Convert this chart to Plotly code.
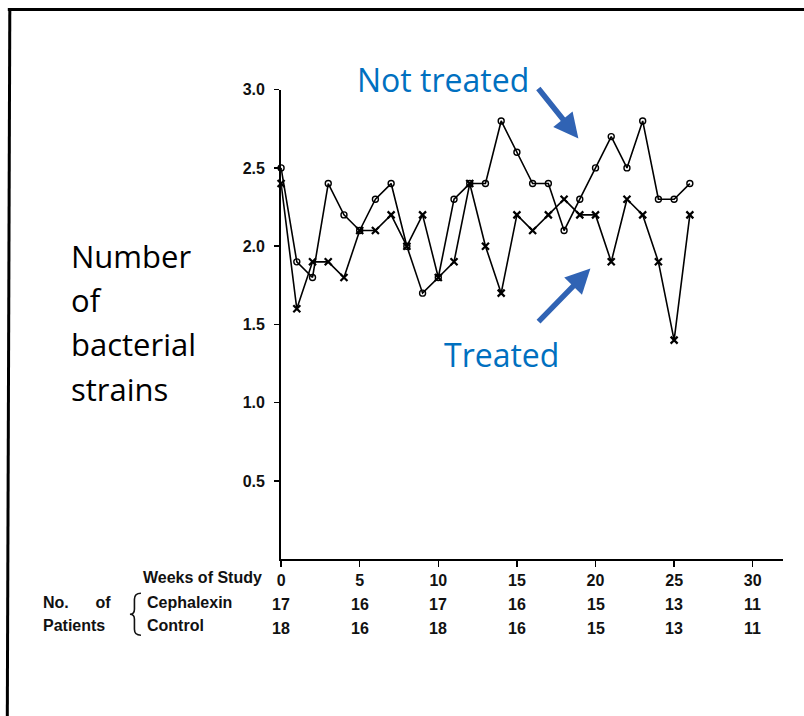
import plotly.graph_objects as go

W, H = 804, 716

weeks = list(range(0, 27))
not_treated = [2.5, 1.9, 1.8, 2.4, 2.2, 2.1, 2.3, 2.4, 2.0, 1.7, 1.8, 2.3, 2.4, 2.4,
               2.8, 2.6, 2.4, 2.4, 2.1, 2.3, 2.5, 2.7, 2.5, 2.8, 2.3, 2.3, 2.4]
treated = [2.4, 1.6, 1.9, 1.9, 1.8, 2.1, 2.1, 2.2, 2.0, 2.2, 1.8, 1.9, 2.4, 2.0,
           1.7, 2.2, 2.1, 2.2, 2.3, 2.2, 2.2, 1.9, 2.3, 2.2, 1.9, 1.4, 2.2]

week_ticks = [0, 5, 10, 15, 20, 25, 30]
cephalexin_n = [17, 16, 17, 16, 15, 13, 11]
control_n = [18, 16, 18, 16, 15, 13, 11]
y_ticks = [0.5, 1.0, 1.5, 2.0, 2.5, 3.0]

# measured capture correction (page -> photo): photo = a*page + b
AX, BX = 0.994, 4.2
AY, BY = 0.9896, 7.3


def xp(px):
    return ((px - BX) / AX) / W


def yp(py):
    return 1 - ((py - BY) / AY) / H


LBL = dict(family="Liberation Sans, Arial, sans-serif", size=16, color="#111111", weight="bold")
BLUE = "#0070C0"
ARROW = "#3063B4"

fig = go.Figure()
fig.add_trace(go.Scatter(
    x=weeks, y=not_treated, mode="lines+markers", name="Not treated",
    line=dict(color="black", width=1.6),
    marker=dict(symbol="circle-open", size=6, color="black", line=dict(width=1.4)),
    cliponaxis=False, hoverinfo="skip",
))
fig.add_trace(go.Scatter(
    x=weeks, y=treated, mode="lines+markers", name="Treated",
    line=dict(color="black", width=1.6),
    marker=dict(symbol="x-thin-open", size=7, color="black", line=dict(width=2.2)),
    cliponaxis=False, hoverinfo="skip",
))

fig.update_layout(
    width=W, height=H,
    margin=dict(l=0, r=0, t=0, b=0),
    paper_bgcolor="white", plot_bgcolor="white",
    showlegend=False, hovermode=False,
    xaxis=dict(
        domain=[xp(281), xp(782)], range=[0, 31.9],
        showgrid=False, zeroline=False,
        showline=True, linecolor="black", linewidth=2,
        ticks="outside", ticklen=6, tickwidth=1.5, tickcolor="black",
        tickvals=week_ticks, ticktext=[str(v) for v in week_ticks],
        tickfont=LBL,
    ),
    yaxis=dict(
        domain=[yp(559), yp(89)], range=[0, 3.0],
        showgrid=False, zeroline=False,
        showline=True, linecolor="black", linewidth=2,
        ticks="outside", ticklen=5, tickwidth=1.5, tickcolor="black",
        tickvals=y_ticks, ticktext=[f"{v:.1f}" for v in y_ticks],
        tickfont=dict(LBL, size=16), ticklabelstandoff=6,
    ),
)

ann = []
ann.append(dict(text="Weeks of Study", x=xp(264), y=yp(577), xref="paper", yref="paper",
                xanchor="right", yanchor="middle", showarrow=False, font=LBL))
ann.append(dict(text="No.&nbsp;&nbsp;&nbsp;&nbsp;&nbsp; of", x=xp(41), y=yp(602), xref="paper", yref="paper",
                xanchor="left", yanchor="middle", showarrow=False, font=LBL))
ann.append(dict(text="Patients", x=xp(41), y=yp(625), xref="paper", yref="paper",
                xanchor="left", yanchor="middle", showarrow=False, font=LBL))
ann.append(dict(text="Cephalexin", x=xp(145), y=yp(602), xref="paper", yref="paper",
                xanchor="left", yanchor="middle", showarrow=False, font=LBL))
ann.append(dict(text="Control", x=xp(145), y=yp(625), xref="paper", yref="paper",
                xanchor="left", yanchor="middle", showarrow=False, font=LBL))
for wk, c, k in zip(week_ticks, cephalexin_n, control_n):
    ann.append(dict(text=str(c), x=wk, y=yp(604), xref="x", yref="paper",
                    xanchor="center", yanchor="middle", showarrow=False, font=LBL))
    ann.append(dict(text=str(k), x=wk, y=yp(628), xref="x", yref="paper",
                    xanchor="center", yanchor="middle", showarrow=False, font=LBL))

BIG = dict(family="Open Sans, sans-serif", size=31, color="black")
for i, line in enumerate(["Number", "of", "bacterial", "strains"]):
    ann.append(dict(text=line, x=xp(69), y=yp(255 + 44.5 * i), xref="paper", yref="paper",
                    xanchor="left", yanchor="middle", showarrow=False, font=BIG))

BLT = dict(family="Open Sans, sans-serif", size=32, color=BLUE)
ann.append(dict(text="Not treated", x=xp(355), y=yp(78.5), xref="paper", yref="paper",
                xanchor="left", yanchor="middle", showarrow=False, font=BLT))
ann.append(dict(text="Treated", x=xp(442), y=yp(354), xref="paper", yref="paper",
                xanchor="left", yanchor="middle", showarrow=False, font=BLT))

ann.append(dict(text="", x=xp(578), y=yp(138), xref="paper", yref="paper",
                ax=(537 - 578) / AX, ay=(87 - 138) / AY, showarrow=True, arrowhead=2,
                arrowsize=0.9, arrowwidth=5.5, arrowcolor=ARROW, standoff=0))
ann.append(dict(text="", x=xp(590), y=yp(268), xref="paper", yref="paper",
                ax=(537 - 590) / AX, ay=(322 - 268) / AY, showarrow=True, arrowhead=2,
                arrowsize=0.9, arrowwidth=5.5, arrowcolor=ARROW, standoff=0))

fig.update_layout(annotations=ann)


def P(x, y):
    return f"{xp(x):.5f},{yp(y):.5f}"


brace = (f"M {P(141, 593)} Q {P(134.5, 593)} {P(134.5, 599)} L {P(134.5, 609)} "
         f"Q {P(134.5, 614)} {P(130, 614)} Q {P(134.5, 614)} {P(134.5, 619)} "
         f"L {P(134.5, 629)} Q {P(134.5, 635)} {P(141, 635)}")
fig.add_shape(type="path", xref="paper", yref="paper", path=brace,
              line=dict(color="#111111", width=1.6))

# frame lines (top and left)
fig.add_shape(type="line", xref="paper", yref="paper", x0=xp(8), x1=1,
              y0=min(yp(8.5), 1 - 1.5 / H), y1=min(yp(8.5), 1 - 1.5 / H),
              line=dict(color="black", width=3))
fig.add_shape(type="line", xref="paper", yref="paper", x0=xp(10), x1=xp(7.5),
              y0=min(yp(7), 1), y1=0, line=dict(color="black", width=3))

post = ("document.documentElement.style.margin='0';"
        "document.body.style.margin='0';document.body.style.padding='0';"
        "document.body.style.overflow='hidden';"
        "var d=document.getElementsByClassName('plotly-graph-div')[0];"
        "d.style.position='fixed';d.style.left='0px';d.style.top='0px';")
fig.write_html("out.html", post_script=post, config={"displayModeBar": False, "staticPlot": True})
